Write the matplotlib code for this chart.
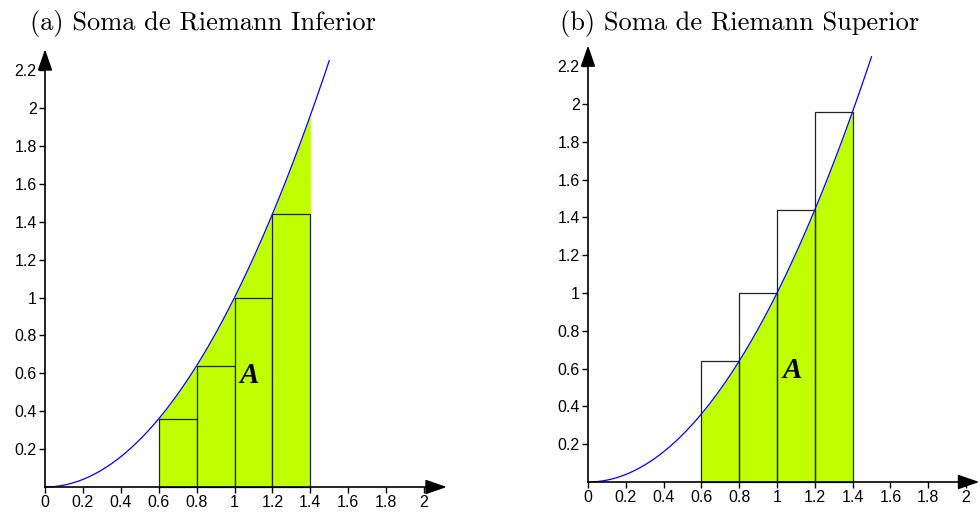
import numpy as np
import matplotlib.pyplot as plt
from matplotlib.patches import Rectangle

# subintervals of [0.6, 1.4] and the rectangle heights
rect_left = [0.6, 0.8, 1.0, 1.2]
rect_width = 0.2
heights_inferior = [0.36, 0.64, 1.0, 1.44]
heights_superior = [0.64, 1.0, 1.44, 1.96]
x_ticks = [0, 0.2, 0.4, 0.6, 0.8, 1, 1.2, 1.4, 1.6, 1.8, 2]
y_ticks = [0.2, 0.4, 0.6, 0.8, 1, 1.2, 1.4, 1.6, 1.8, 2, 2.2]
titles = ["(a) Soma de Riemann Inferior", "(b) Soma de Riemann Superior"]
a_label_pos = [(1.08, 0.59), (1.08, 0.59)]

GREEN = "#bfff00"
W, H = 980, 512


def f(x):
    return x ** 2


def tick_text(v):
    return f"{v:g}"


def setup_axis(fig, px_left, px_right, px_top, px_bottom, x0_px, y0_px, scale, x_tip, y_tip):
    ax = fig.add_axes([px_left / W, 1 - px_bottom / H, (px_right - px_left) / W, (px_bottom - px_top) / H])
    ax.set_xlim((px_left - x0_px) / scale, (px_right - x0_px) / scale)
    ax.set_ylim((y0_px - px_bottom) / scale, (y0_px - px_top) / scale)
    for side in ("top", "right"):
        ax.spines[side].set_visible(False)
    for side in ("left", "bottom"):
        ax.spines[side].set_position(("data", 0))
        ax.spines[side].set_linewidth(1.2)
        ax.spines[side].set_zorder(5)
    ax.spines["bottom"].set_bounds(0, x_tip - 0.05)
    ax.spines["left"].set_bounds(0, y_tip - 0.05)
    ax.set_xticks(x_ticks)
    ax.set_xticklabels([tick_text(v) for v in x_ticks], family="Liberation Sans", fontsize=11.5)
    ax.set_yticks(y_ticks)
    ax.set_yticklabels([tick_text(v) for v in y_ticks], family="Liberation Sans", fontsize=11.5)
    ax.tick_params(direction="out", length=4, width=1, pad=2)
    arrow = dict(arrowstyle="-|>,head_length=1.3,head_width=0.45", color="black", lw=1.2, shrinkA=0, shrinkB=0)
    ax.annotate("", xy=(x_tip, 0), xytext=(x_tip - 0.1, 0), arrowprops=arrow, annotation_clip=False, zorder=6)
    ax.annotate("", xy=(0, y_tip), xytext=(0, y_tip - 0.1), arrowprops=arrow, annotation_clip=False, zorder=6)
    return ax


fig = plt.figure(figsize=(W / 100, H / 100), dpi=100)

xs = np.linspace(0, 1.5, 300)
xf = np.linspace(rect_left[0], rect_left[-1] + rect_width, 200)

# (a) lower sum
ax1 = setup_axis(fig, 20, 460, 40, 505, 45, 487, 189.5, 2.12, 2.31)
ax1.fill_between(xf, 0, f(xf), color=GREEN, lw=0, zorder=1)
for x0, h in zip(rect_left, heights_inferior):
    ax1.add_patch(Rectangle((x0, 0), rect_width, h, facecolor=GREEN, edgecolor="#222222", lw=0.9, zorder=2))
ax1.plot(xs, f(xs), color="blue", lw=0.9, zorder=3)
ax1.text(*a_label_pos[0], "A", family="Liberation Serif", fontstyle="italic", fontweight="bold",
         fontsize=21, ha="center", va="center", zorder=4)

# (b) upper sum
ax2 = setup_axis(fig, 560, 980, 35, 500, 588, 482, 189, 2.07, 2.31)
ax2.fill_between(xf, 0, f(xf), color=GREEN, lw=0, zorder=1)
for x0, h in zip(rect_left, heights_superior):
    ax2.add_patch(Rectangle((x0, 0), rect_width, h, facecolor="none", edgecolor="#222222", lw=0.9, zorder=2))
ax2.plot(xs, f(xs), color="blue", lw=0.9, zorder=3)
ax2.text(*a_label_pos[1], "A", family="Liberation Serif", fontstyle="italic", fontweight="bold",
         fontsize=21, ha="center", va="center", zorder=4)

fig.text(30 / W, 1 - 30 / H, titles[0], family=["cmr10", "DejaVu Serif"], fontsize=19, ha="left", va="baseline")
fig.text(560 / W, 1 - 30 / H, titles[1], family=["cmr10", "DejaVu Serif"], fontsize=19, ha="left", va="baseline")

fig.savefig("out.png", dpi=100)
